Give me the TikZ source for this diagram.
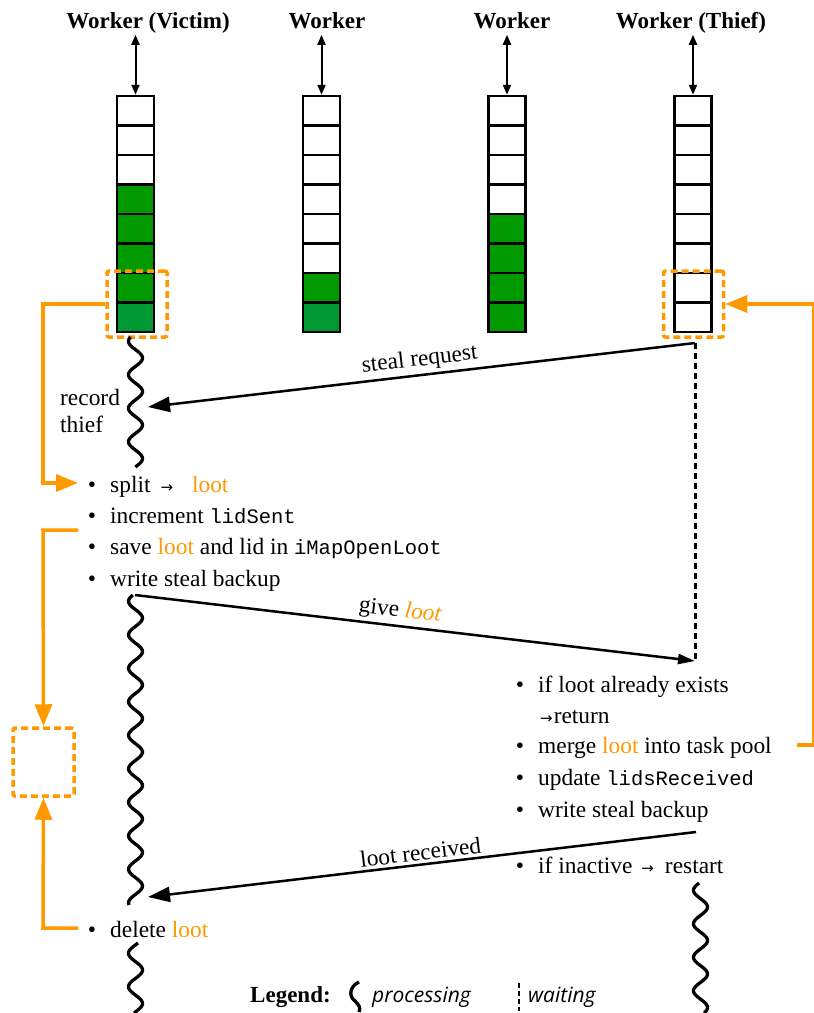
\documentclass[tikz,border=0pt]{standalone}
\usepackage{fontspec}
\setmainfont{Liberation Serif}
\newfontfamily\codefont{Liberation Mono}
\newfontfamily\legfont{Open Sans}
\newfontfamily\arrfont{DejaVu Sans}
\usetikzlibrary{arrows.meta,calc}
\definecolor{orng}{RGB}{255,153,0}
\definecolor{gA}{RGB}{0,153,0}
\definecolor{gB}{RGB}{0,153,51}
\newcommand{\cd}[1]{{\codefont\fontsize{20.5}{24}\selectfont #1}}
\newcommand{\lt}{\textcolor{orng}{loot}}
\newcommand{\sarr}{{\arrfont\fontsize{15}{15}\selectfont →}}
\newcommand{\wavyline}[4]{\draw[wavestyle] plot[domain=#2:#3, samples=160, smooth, variable=\t] ({#1+7*cos(((\t-#4)/33.5)*360)},\t);}
\begin{document}
\begin{tikzpicture}[x=1pt,y=-1pt,
  every node/.style={font=\fontsize{23.4}{28}\selectfont, inner sep=0pt},
  hdr/.style={font=\fontsize{23}{28}\selectfont\bfseries, anchor=base},
  item/.style={anchor=base west},
  bul/.style={anchor=base},
  cell/.style={draw=black, line width=2.5pt, minimum width=37pt, minimum height=29.5pt},
  biarrow/.style={line width=2pt, {Triangle[length=10pt,width=8pt]}-{Triangle[length=10pt,width=8pt]}},
  obox/.style={draw=orng, line width=3.5pt, dash pattern=on 7pt off 4pt, rounded corners=2pt, minimum width=60pt, minimum height=66pt},
  oline/.style={draw=orng, line width=3.5pt, -{Triangle[length=22pt,width=17pt]}},
  msg/.style={line width=2.5pt, -{Triangle[length=22pt,width=15pt]}},
  wavestyle/.style={line width=3.3pt},
  waitline/.style={line width=3pt, dash pattern=on 6pt off 4pt},
]
\useasboundingbox (0,0) rectangle (814,1013);

% headers
\node[hdr] (hv) at (148,28) {Worker (Victim)};
\node[hdr] (hw) at (327,28) {Worker};
\node[hdr] (hx) at (512,28) {Worker};
\node[hdr] (ht) at (691,28) {Worker (Thief)};

% queues
\foreach \c/\xx in {v/135.5, w/321.5, x/507, t/693}{
  \foreach \i in {1,...,8}{
    \node[cell] (\c\i) at (\xx,{96+29.5*(\i-0.5)}) {};
  }
}
\foreach \i in {4,...,7}{\node[cell, fill=gA] at (v\i) {};}
\node[cell, fill=gB] at (v8) {};
\node[cell, fill=gA] at (w7) {};
\node[cell, fill=gB] at (w8) {};
\foreach \i in {5,...,8}{\node[cell, fill=gA] at (x\i) {};}

% top arrows
\foreach \c in {v,w,x,t}{
  \draw[biarrow] (\c1.north) -- ++(0,-60);
}

% orange dashed boxes
\node[obox] (vb) at (137,304) {};
\node[obox] (tb) at (693.5,304) {};
\node[obox, minimum width=61pt, minimum height=68pt] (lb) at (43.5,762) {};

% victim texts
\node[item] (rec) at (60,405) {record};
\node[item] (thf) at (60,432) {thief};

\node[bul] (b1) at (92,492) {\textbullet};
\node[item] (i1) at (110,492) {split\hspace{10pt}\sarr\hspace{19pt}\lt};
\node[bul] (b2) at (92,523) {\textbullet};
\node[item] (i2) at (110,523) {increment \cd{lidSent}};
\node[bul] (b3) at (92,554) {\textbullet};
\node[item] (i3) at (110,554) {save \lt{} and lid in \cd{iMapOpenLoot}};
\node[bul] (b4) at (92,586) {\textbullet};
\node[item] (i4) at (110,586) {write steal backup};
\node[bul] (b5) at (92,937) {\textbullet};
\node[item] (i5) at (110,937) {delete \lt};

% thief texts
\node[bul] (c1) at (520,692) {\textbullet};
\node[item] (j1) at (538,692) {if loot already exists};
\node[item] (j1b) at (540,723) {\sarr\hspace{1pt}return};
\node[bul] (c2) at (520,753) {\textbullet};
\node[item] (j2) at (538,753) {merge \lt{} into task pool};
\node[bul] (c3) at (520,785) {\textbullet};
\node[item] (j3) at (538,785) {update \cd{lidsReceived}};
\node[bul] (c4) at (520,817) {\textbullet};
\node[item] (j4) at (538,817) {write steal backup};
\node[bul] (c5) at (520,873) {\textbullet};
\node[item] (j5) at (538,873) {if inactive\hspace{9pt}\sarr\hspace{11pt}restart};

% lifelines
\wavyline{135.5}{337}{467}{358}
\wavyline{135.5}{595}{905}{685}
\wavyline{135.5}{943}{1013}{970}
\wavyline{700.5}{883}{1013}{907}

\coordinate (tq) at (695,343);
\coordinate (tg) at (695,661);
\draw[waitline] (tq) -- (tg);

% messages
\coordinate (vr) at (148,407);
\draw[msg] (tq) -- node[above, sloped, inner sep=3pt] {steal request} (vr);
\coordinate (vg) at (135,595);
\draw[line width=2.5pt, -{Triangle[length=17pt,width=10pt]}] (vg) -- node[above, sloped, pos=0.47, inner sep=3pt] {give \textcolor{orng}{\itshape loot}} (tg);
\coordinate (tr) at (696,832);
\coordinate (vd) at (148,897);
\draw[msg] (tr) -- node[above, sloped, inner sep=3pt] {loot received} (vd);

% orange connectors
\coordinate (s1) at (78,483);
\draw[oline] (vb.west) -- (43,304) -- (43,483) -- (s1);
\coordinate (s2) at (78,530);
\draw[oline] (s2) -- (43,530) -- (lb.north);
\coordinate (s3) at (78,928);
\draw[oline] (s3) -- (43,928) -- (lb.south);
\coordinate (s4) at (797,745);
\draw[oline] (s4) -- (814,745) -- (814,304) -- (tb.east);

% legend
\node[hdr, anchor=base west] (lg) at (250,1002) {Legend:};
\coordinate (lw1) at (359,982);
\coordinate (lwm) at (355,1001);
\coordinate (lw2) at (359,1012);
\draw[wavestyle] (lw1) .. controls (350,986) and (348,996) .. (lwm) .. controls (359,1005) and (361,1008) .. (lw2);
\node[item, font=\legfont\itshape\fontsize{21}{24}\selectfont] (lp) at (372,1002) {processing};
\coordinate (ld1) at (519,983);
\coordinate (ld2) at (519,1011);
\draw[line width=2.5pt, dash pattern=on 5pt off 3pt] (ld1) -- (ld2);
\node[item, font=\legfont\itshape\fontsize{21}{24}\selectfont] (lwt) at (528,1002) {waiting};
\end{tikzpicture}
\end{document}
